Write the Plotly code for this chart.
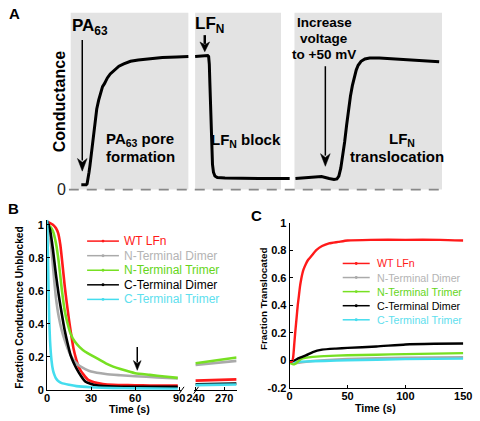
import plotly.graph_objects as go

W, H = 480, 421
def PX(x): return x / W
def PY(y): return 1 - y / H

FONT = "Liberation Sans, Arial, sans-serif"

# ---------------- Panel A data (arbitrary time units, conductance normalised) ----
a_t1 = [13, 18, 19, 20, 21, 22, 23, 24, 25, 26, 27, 28, 29, 31, 33, 35, 37, 40, 43, 47, 52, 57, 64, 72, 82, 97, 112, 124]
a_g1 = [0.036, 0.036, 0.044, 0.080, 0.131, 0.182, 0.241, 0.307, 0.372, 0.438, 0.496, 0.555, 0.606, 0.672,
        0.730, 0.774, 0.796, 0.839, 0.869, 0.898, 0.927, 0.945, 0.964, 0.974, 0.983, 0.993, 0.996, 1.0]
a_t2 = [131, 144, 145, 145.7, 146.3, 147, 147.7, 148.3, 149, 150, 151.5, 154, 162, 197, 229]
a_g2 = [1.0, 1.007, 1.0, 0.942, 0.796, 0.613, 0.431, 0.285, 0.190, 0.131, 0.102, 0.091, 0.088, 0.084, 0.084]
a_t3 = [235, 252, 262, 270, 275, 278, 280, 282, 284, 286, 288, 290, 292, 294, 296, 298, 300, 303, 307, 312, 322, 337, 357, 384]
a_g3 = [0.084, 0.091, 0.099, 0.084, 0.077, 0.080, 0.102, 0.161, 0.248, 0.358, 0.482, 0.599, 0.701, 0.781,
        0.847, 0.898, 0.934, 0.964, 0.982, 0.989, 0.989, 0.982, 0.971, 0.961]
a_boxes = [(2, 124), (131, 220), (234, 387)]

# ---------------- Panel B data -------------------------------------------------
names = ["WT LFn", "N-Terminal Dimer", "N-Terminal Trimer", "C-Terminal Dimer", "C-Terminal Trimer"]
line_colors = ["#ff1a1a", "#aaaaaa", "#77e022", "#000000", "#44ddee"]
text_colors = ["#ff1a1a", "#b4b4b4", "#66d61a", "#000000", "#5ee0ee"]

b_red_t = [0, 2, 4, 6, 7.5, 9, 10.5, 12, 13.5, 15, 16.5, 18, 20, 22, 25, 28, 32, 38, 45, 55, 65, 75, 89]
b_red_v = [1.02, 1.01, 1.0, 0.98, 0.95, 0.88, 0.76, 0.63, 0.52, 0.42, 0.33, 0.25, 0.18, 0.13, 0.09, 0.06, 0.045, 0.035, 0.03, 0.028, 0.027, 0.025, 0.025]
b_gray_t = [0, 1, 2, 3, 4, 5, 6, 8, 10, 12, 14, 16, 19, 22, 26, 30, 40, 50, 60, 75, 89]
b_gray_v = [1.0, 0.98, 0.93, 0.85, 0.75, 0.65, 0.56, 0.44, 0.36, 0.30, 0.25, 0.21, 0.17, 0.145, 0.125, 0.11, 0.095, 0.088, 0.082, 0.075, 0.068]
b_green_t = [0, 2, 4, 6, 8, 10, 12, 14, 16, 19, 22, 26, 30, 35, 40, 45, 50, 60, 70, 80, 89]
b_green_v = [1.0, 0.99, 0.96, 0.89, 0.77, 0.61, 0.48, 0.40, 0.34, 0.29, 0.26, 0.23, 0.21, 0.185, 0.16, 0.14, 0.125, 0.10, 0.09, 0.08, 0.072]
b_black_t = [0, 2, 4, 6, 8, 10, 12, 14, 16, 18, 20, 23, 26, 30, 35, 45, 60, 75, 89]
b_black_v = [1.02, 0.97, 0.85, 0.70, 0.57, 0.46, 0.36, 0.28, 0.21, 0.165, 0.13, 0.085, 0.05, 0.035, 0.025, 0.02, 0.018, 0.018, 0.018]
b_cyan_t = [0, 0.5, 1, 1.5, 2, 3, 4, 5, 6, 8, 10, 15, 20, 30, 45, 60, 89]
b_cyan_v = [1.03, 0.85, 0.6, 0.42, 0.30, 0.18, 0.12, 0.09, 0.07, 0.05, 0.04, 0.03, 0.022, 0.015, 0.01, 0.008, 0.006]

b_late_t = [240, 250, 260, 270, 283]
b_late = [
    [0.055, 0.057, 0.058, 0.061, 0.063],
    [0.150, 0.156, 0.160, 0.166, 0.175],
    [0.160, 0.168, 0.176, 0.183, 0.195],
    [0.033, 0.034, 0.036, 0.036, 0.038],
    [0.028, 0.029, 0.030, 0.031, 0.032],
]
b_early = [(b_red_t, b_red_v), (b_gray_t, b_gray_v), (b_green_t, b_green_v),
           (b_black_t, b_black_v), (b_cyan_t, b_cyan_v)]

# ---------------- Panel C data -------------------------------------------------
c_red_t = [0, 2, 3, 4, 5, 6, 7, 8, 9, 10, 11, 12, 14, 16, 19, 23, 28, 34, 42, 50, 70, 100, 130, 150]
c_red_v = [-0.01, -0.01, 0.02, 0.12, 0.22, 0.31, 0.40, 0.47, 0.54, 0.59, 0.63, 0.66, 0.70, 0.73, 0.76, 0.80, 0.83, 0.85, 0.86, 0.87, 0.875, 0.875, 0.875, 0.87]
c_gray_t = [0, 5, 20, 50, 100, 150]
c_gray_v = [-0.01, -0.02, -0.005, 0.01, 0.018, 0.022]
c_green_t = [0, 3, 5, 10, 20, 30, 50, 75, 100, 125, 150]
c_green_v = [-0.02, -0.03, -0.025, 0.01, 0.025, 0.03, 0.037, 0.04, 0.045, 0.048, 0.052]
c_black_t = [0, 3, 8, 14, 20, 28, 40, 50, 75, 100, 125, 150]
c_black_v = [-0.01, -0.005, 0.015, 0.035, 0.06, 0.077, 0.085, 0.09, 0.10, 0.115, 0.12, 0.122]
c_cyan_t = [0, 10, 30, 50, 100, 150]
c_cyan_v = [-0.01, -0.01, -0.005, 0.0, 0.008, 0.012]
c_series = [(c_red_t, c_red_v), (c_gray_t, c_gray_v), (c_green_t, c_green_v),
            (c_black_t, c_black_v), (c_cyan_t, c_cyan_v)]

b_yticks = [0, 0.2, 0.4, 0.6, 0.8, 1]
b_yticktext = ["0", "0.2", "0.4", "0.6", "0.8", "1"]
b_xticks = [0, 30, 60, 90]
b_xticks_late = [240, 270]
c_yticks = [-0.2, 0, 0.2, 0.4, 0.6, 0.8, 1]
c_yticktext = ["-0.2", "0", "0.2", "0.4", "0.6", "0.8", "1"]
c_xticks = [0, 50, 100, 150]

fig = go.Figure()

# Panel A traces
for t, g in [(a_t1, a_g1), (a_t2, a_g2), (a_t3, a_g3)]:
    fig.add_trace(go.Scatter(x=t, y=g, mode="lines", line=dict(color="black", width=3),
                             xaxis="x", yaxis="y", showlegend=False, hoverinfo="skip"))

# Panel B traces
for i in range(5):
    t, v = b_early[i]
    fig.add_trace(go.Scatter(x=t, y=v, mode="lines",
                             line=dict(color=line_colors[i], width=2.6, shape="spline", smoothing=0.5),
                             xaxis="x2", yaxis="y2", showlegend=False))
    fig.add_trace(go.Scatter(x=b_late_t, y=b_late[i], mode="lines",
                             line=dict(color=line_colors[i], width=2.6),
                             xaxis="x3", yaxis="y2", showlegend=False))
# Panel C traces
for i in [1, 4, 2, 3, 0]:
    t, v = c_series[i]
    fig.add_trace(go.Scatter(x=t, y=v, mode="lines",
                             line=dict(color=line_colors[i], width=2.4, shape="spline", smoothing=0.5),
                             xaxis="x4", yaxis="y4", showlegend=False))

shapes = []
for x0, x1 in a_boxes:
    shapes.append(dict(type="rect", xref="x", yref="y", x0=x0, x1=x1, y0=0, y1=1.328,
                       fillcolor="#e3e3e3", line=dict(width=0), layer="below"))
shapes.append(dict(type="line", xref="x", yref="y", x0=0, x1=387, y0=0, y1=0,
                   line=dict(color="#888888", width=1.6, dash="10px,8px")))

# axis break marks in B
for xb in [180, 195]:
    shapes.append(dict(type="line", xref="paper", yref="paper",
                       x0=PX(xb - 2.5), x1=PX(xb + 2.5), y0=PY(399), y1=PY(392),
                       line=dict(color="black", width=1)))

def arrow(x, y_tail, y_head, width, head_w, head_l):
    base = y_head - head_l
    shapes.append(dict(type="line", xref="paper", yref="paper", x0=PX(x), x1=PX(x),
                       y0=PY(y_tail), y1=PY(base + 2), line=dict(color="black", width=width)))
    path = "M {} {} L {} {} L {} {} L {} {} Z".format(
        PX(x - head_w / 2), PY(base), PX(x), PY(y_head), PX(x + head_w / 2), PY(base),
        PX(x), PY(base + head_l * 0.3))
    shapes.append(dict(type="path", xref="paper", yref="paper", path=path,
                       fillcolor="black", line=dict(color="black", width=0.5)))

annotations = []
def txt(x, y, s, size, bold=True, color="black", angle=0, xanchor="center"):
    annotations.append(dict(x=PX(x), y=PY(y), xref="paper", yref="paper", text=s,
                            showarrow=False, textangle=angle, xanchor=xanchor, yanchor="middle",
                            font=dict(family=FONT, size=size, color=color,
                                      weight="bold" if bold else "normal")))

# Panel A labels
txt(7, 8, "A", 15)
txt(55, 189, "0", 16, bold=False, color="#222222")
txt(53, 99, "Conductance", 16, angle=-90)
txt(85, 22, "PA<sub>63</sub>", 17)
txt(209, 20, "LF<sub>N</sub>", 17)
txt(328, 17, "Increase", 13.5)
txt(328, 33, "voltage", 13.5)
txt(328, 50, "to +50 mV", 13.5)
txt(137, 137, "PA<sub>63</sub> pore", 15)
txt(137, 155, "formation", 15)
txt(247, 138, "LF<sub>N</sub> block", 15)
txt(408, 137, "LF<sub>N</sub>", 15)
txt(403, 155, "translocation", 15)
arrow(77, 35, 170, 1.5, 10, 13)
arrow(204, 30, 47, 2.5, 10, 10)
arrow(329, 62, 165, 1.5, 10, 13)

# Panel B labels
txt(6, 208, "B", 15)
txt(12, 311, "Fraction Conductance Unblocked", 10.2, angle=-90)
txt(126, 415, "Time (s)", 10.7)
arrow(134, 351, 375, 1.5, 8, 10)

# Panel C labels
txt(258, 216, "C", 15)
txt(265, 301, "Fraction Translocated", 9.9, angle=-90)
txt(381, 414, "Time (s)", 10.7)

# legends
def legend(x0, x1, xt, y_first, step, size):
    for i in range(5):
        yy = y_first + i * step
        shapes.append(dict(type="line", xref="paper", yref="paper", x0=PX(x0), x1=PX(x1),
                           y0=PY(yy), y1=PY(yy), line=dict(color=line_colors[i], width=1.5)))
        xm = (x0 + x1) / 2
        shapes.append(dict(type="circle", xref="paper", yref="paper",
                           x0=PX(xm - 1.5), x1=PX(xm + 1.5), y0=PY(yy + 1.5), y1=PY(yy - 1.5),
                           fillcolor=line_colors[i], line=dict(width=0)))
        txt(xt, yy, names[i], size, bold=False, color=text_colors[i], xanchor="left")

legend(82, 115, 118, 242, 15, 12)
legend(347, 375, 380, 265, 14.5, 10.7)

tickfont = dict(family=FONT, size=11, color="black", weight="bold")
common = dict(showline=True, linecolor="black", linewidth=1, ticks="inside", ticklen=3,
              tickcolor="black", showgrid=False, zeroline=False, tickfont=tickfont, fixedrange=True)

fig.update_layout(
    width=W, height=H, margin=dict(l=0, r=0, t=0, b=0),
    paper_bgcolor="white", plot_bgcolor="white", showlegend=False,
    font=dict(family=FONT),
    xaxis=dict(domain=[PX(63), PX(450)], range=[0, 387], visible=False, anchor="y"),
    yaxis=dict(domain=[PY(195), PY(5)], range=[-0.0438, 1.343], visible=False, anchor="x"),
    xaxis2=dict(domain=[PX(40.5), PX(179.5)], range=[0, 91.3], anchor="y2",
                tickvals=b_xticks, ticklabelstandoff=-2, **common),
    yaxis2=dict(domain=[PY(395), PY(220)], range=[0, 1.03], anchor="x2",
                tickvals=b_yticks, ticktext=b_yticktext, **common),
    xaxis3=dict(domain=[PX(193), PX(237)], range=[238.5, 283], anchor="y2",
                tickvals=b_xticks_late, ticklabelstandoff=-2, **common),
    xaxis4=dict(domain=[PX(292), PX(472)], range=[0, 150], anchor="y4",
                tickvals=c_xticks, ticklabelstandoff=-2, **common),
    yaxis4=dict(domain=[PY(393), PY(223)], range=[-0.2, 1.0], anchor="x4",
                tickvals=c_yticks, ticktext=c_yticktext, **common),
    shapes=shapes, annotations=annotations,
)

fig.write_html("out.html", config={"displayModeBar": False},
               post_script="document.body.style.margin='0px';")
